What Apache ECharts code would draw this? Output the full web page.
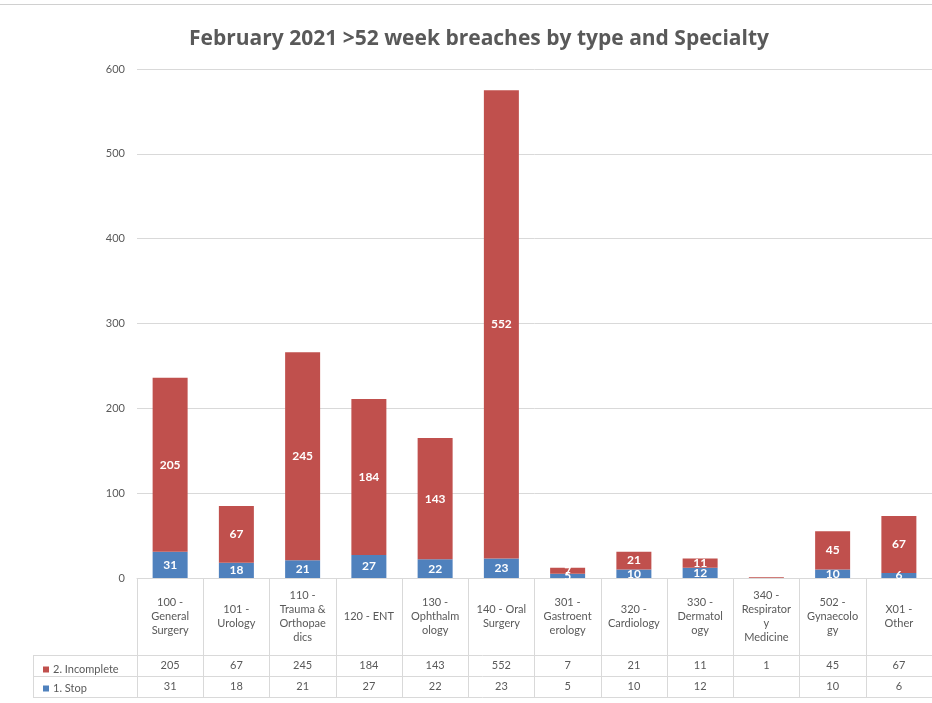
<!DOCTYPE html>
<html>
<head>
<meta charset="utf-8">
<script src="https://cdn.jsdelivr.net/npm/echarts@6/dist/echarts.min.js"></script>
<style>
  html, body { margin: 0; padding: 0; background: #ffffff; }
  #chart { width: 932px; height: 703px; }
</style>
</head>
<body>
<div id="chart"></div>
<script>
// Specialty categories (line breaks follow the data-table cell wrapping)
const categories = [
  '100 -\nGeneral\nSurgery',
  '101 -\nUrology',
  '110 -\nTrauma &\nOrthopae\ndics',
  '120 - ENT',
  '130 -\nOphthalm\nology',
  '140 - Oral\nSurgery',
  '301 -\nGastroent\nerology',
  '320 -\nCardiology',
  '330 -\nDermatol\nogy',
  '340 -\nRespirator\ny\nMedicine',
  '502 -\nGynaecolo\ngy',
  'X01 -\nOther'
];
const seriesNames = ['1. Stop', '2. Incomplete'];
const stopValues = [31, 18, 21, 27, 22, 23, 5, 10, 12, null, 10, 6];
const incompleteValues = [205, 67, 245, 184, 143, 552, 7, 21, 11, 1, 45, 67];
const yTicks = { min: 0, max: 600, interval: 100 };

// layout
const W = 932, H = 703;
const GRID_LEFT = 137, GRID_TOP = 69, GRID_BOTTOM = 125, GRID_RIGHT = 0;
const AXIS_Y = H - GRID_BOTTOM;          // 578
const HEADER_H = 77;                     // category-name row height
const ROW_H = 21;                        // value rows
const TABLE_LEFT = 33;
const LINE = '#d9d9d9';
const TEXT = '#595959';
const FONT = 'Lato, "Noto Sans", sans-serif';

const chart = echarts.init(document.getElementById('chart'), null, { renderer: 'canvas' });

const rowY1 = AXIS_Y + HEADER_H;         // 655
const rowY2 = rowY1 + ROW_H;             // 676
const rowY3 = rowY2 + ROW_H;             // 697

function barLabel() {
  return {
    show: true,
    position: 'inside',
    color: '#ffffff',
    fontWeight: 'bold',
    fontSize: 12,
    fontFamily: FONT,
    formatter: p => (p.value == null || p.value < 2) ? '' : String(p.value)
  };
}

const option = {
  animation: false,
  backgroundColor: '#ffffff',
  textStyle: { fontFamily: FONT },
  title: {
    text: 'February 2021 >52 week breaches by type and Specialty',
    left: 184,
    top: 24,
    textStyle: { fontFamily: '"Open Sans", sans-serif', fontSize: 21, fontWeight: 'bold', color: TEXT }
  },
  legend: {
    data: ['2. Incomplete', '1. Stop'],
    orient: 'vertical',
    left: TABLE_LEFT + 5,
    top: rowY1 + 4,
    itemWidth: 6,
    itemHeight: 6,
    itemGap: 8,
    icon: 'rect',
    textStyle: { fontFamily: FONT, fontSize: 11, color: TEXT, padding: [0, 0, 0, -1] }
  },
  grid: { left: GRID_LEFT, right: GRID_RIGHT, top: GRID_TOP, bottom: GRID_BOTTOM, containLabel: false },
  xAxis: [
    {
      type: 'category',
      data: categories,
      position: 'bottom',
      axisLine: { show: true, lineStyle: { color: LINE } },
      axisTick: { show: true, length: HEADER_H + 2 * ROW_H, lineStyle: { color: LINE } },
      axisLabel: {
        interval: 0, margin: HEADER_H / 2, verticalAlign: 'middle',
        fontSize: 11, lineHeight: 14, color: TEXT, fontFamily: FONT
      },
      splitLine: { show: false }
    },
    {
      type: 'category',
      data: categories,
      position: 'bottom',
      axisLine: { show: false },
      axisTick: { show: false },
      axisLabel: {
        interval: 0, margin: HEADER_H + ROW_H / 2, verticalAlign: 'middle',
        fontSize: 11, color: TEXT, fontFamily: FONT,
        formatter: (v, i) => incompleteValues[i] == null ? '' : String(incompleteValues[i])
      }
    },
    {
      type: 'category',
      data: categories,
      position: 'bottom',
      axisLine: { show: false },
      axisTick: { show: false },
      axisLabel: {
        interval: 0, margin: HEADER_H + ROW_H * 1.5, verticalAlign: 'middle',
        fontSize: 11, color: TEXT, fontFamily: FONT,
        formatter: (v, i) => stopValues[i] == null ? '' : String(stopValues[i])
      }
    }
  ],
  yAxis: {
    type: 'value',
    min: yTicks.min, max: yTicks.max, interval: yTicks.interval,
    axisLine: { show: false },
    axisTick: { show: false },
    axisLabel: { fontSize: 11, color: TEXT, margin: 12, fontFamily: FONT },
    splitLine: { lineStyle: { color: LINE } }
  },
  series: [
    {
      name: seriesNames[0],
      type: 'bar',
      stack: 'total',
      data: stopValues,
      barWidth: 35,
      itemStyle: { color: '#4F81BD' },
      label: barLabel()
    },
    {
      name: seriesNames[1],
      type: 'bar',
      stack: 'total',
      data: incompleteValues,
      barWidth: 35,
      itemStyle: { color: '#C0504D' },
      label: barLabel()
    }
  ],
  graphic: [
    // chart-area top border
    { type: 'line', shape: { x1: 0, y1: 4.5, x2: W, y2: 4.5 }, style: { stroke: '#d0d0d0', lineWidth: 1 }, silent: true },
    // data-table horizontal rules
    { type: 'line', shape: { x1: TABLE_LEFT, y1: rowY1 + 0.5, x2: W, y2: rowY1 + 0.5 }, style: { stroke: LINE, lineWidth: 1 }, silent: true },
    { type: 'line', shape: { x1: TABLE_LEFT, y1: rowY2 + 0.5, x2: W, y2: rowY2 + 0.5 }, style: { stroke: LINE, lineWidth: 1 }, silent: true },
    { type: 'line', shape: { x1: TABLE_LEFT, y1: rowY3 + 0.5, x2: W, y2: rowY3 + 0.5 }, style: { stroke: LINE, lineWidth: 1 }, silent: true },
    // legend column left border
    { type: 'line', shape: { x1: TABLE_LEFT + 0.5, y1: rowY1, x2: TABLE_LEFT + 0.5, y2: rowY3 }, style: { stroke: LINE, lineWidth: 1 }, silent: true }
  ]
};

chart.setOption(option);
</script>
</body>
</html>
